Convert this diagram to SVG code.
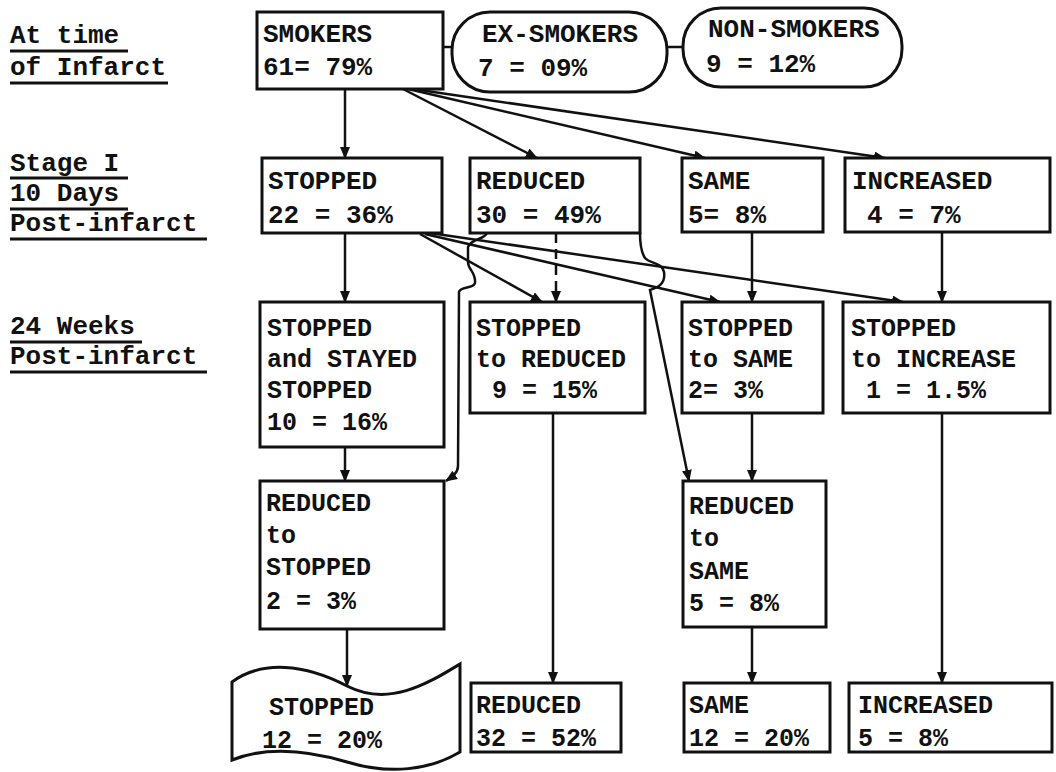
<svg xmlns="http://www.w3.org/2000/svg" width="1056" height="772" viewBox="0 0 1056 772">
<style>
  .t { font-family: "Liberation Mono", "DejaVu Sans Mono", monospace; font-size: 26px; font-weight: bold; fill: #111; }
  .b { font-family: "Liberation Mono", "DejaVu Sans Mono", monospace; font-size: 25px; font-weight: bold; fill: #111; }
  .box { fill: #fff; stroke: #111; stroke-width: 3; }
  .ul { stroke: #111; stroke-width: 3; }
  .c { fill: none; stroke: #111; stroke-width: 2.5; }
  .ca { fill: none; stroke: #111; stroke-width: 2.5; marker-end: url(#ah); }
</style>
<defs>
  <marker id="ah" markerWidth="12" markerHeight="10" refX="11" refY="5" orient="auto" markerUnits="userSpaceOnUse">
    <path d="M0,0 L12,5 L0,10 Z" fill="#111"/>
  </marker>
</defs>
<rect width="1056" height="772" fill="#fff"/>

<g id="row-labels">
  <text class="t" x="10" y="43">At time</text>
  <line class="ul" x1="10" y1="51" x2="128" y2="51"/>
  <text class="t" x="10" y="75">of Infarct</text>
  <line class="ul" x1="10" y1="83" x2="168" y2="83"/>
  <text class="t" x="10" y="171">Stage I</text>
  <line class="ul" x1="10" y1="178" x2="128" y2="178"/>
  <text class="t" x="10" y="201">10 Days</text>
  <line class="ul" x1="10" y1="209" x2="128" y2="209"/>
  <text class="t" x="10" y="231">Post-infarct</text>
  <line class="ul" x1="10" y1="239" x2="207" y2="239"/>
  <text class="t" x="10" y="334">24 Weeks</text>
  <line class="ul" x1="10" y1="342" x2="142" y2="342"/>
  <text class="t" x="10" y="364">Post-infarct</text>
  <line class="ul" x1="10" y1="372" x2="207" y2="372"/>
</g>

<g id="connectors">
  <line class="c" x1="443" y1="47" x2="452" y2="47"/>
  <line class="c" x1="667" y1="47" x2="683" y2="47"/>
  <path class="ca" d="M345,89 L345,158"/>
  <path class="ca" d="M403,89 L537,158"/>
  <path class="ca" d="M408,89 L705,158"/>
  <path class="ca" d="M413,89 L885,158"/>
  <path class="ca" d="M345,233 L345,302"/>
  <path class="ca" d="M420,234 L542,302"/>
  <path class="ca" d="M425,234 L720,302"/>
  <path class="ca" d="M430,233 L903,302"/>
  <path class="ca" d="M556,233 L556,302" stroke-dasharray="10 6"/>
  <path class="ca" d="M487,233 C484,240 472,238 468,247 L468,262 C468,270 476,272 475,283 C474,289 460,286 459,292 L458,466 C458,473 452,477 446,481"/>
  <path class="ca" d="M640,233 C640,245 641,252 645,258 C650,264 662,262 664,272 C666,285 656,288 650,290 L689,481"/>
  <path class="ca" d="M752,232 L752,302"/>
  <path class="ca" d="M942,232 L942,302"/>
  <path class="ca" d="M345,447 L345,481"/>
  <path class="ca" d="M553,413 L553,683"/>
  <path class="ca" d="M752,413 L752,481"/>
  <path class="ca" d="M942,413 L942,683"/>
  <path class="ca" d="M347,630 L347,686"/>
  <path class="ca" d="M752,627 L752,683"/>
</g>

<g id="smokers">
  <rect class="box" x="257" y="12" width="186" height="77"/>
  <text class="t" x="263" y="42">SMOKERS</text>
  <text class="t" x="263" y="75">61= 79%</text>
</g>
<g id="ex-smokers">
  <rect class="box" x="452" y="12" width="215" height="80" rx="38" ry="38"/>
  <text class="t" x="482" y="42">EX-SMOKERS</text>
  <text class="t" x="478" y="76">7 = 09%</text>
</g>
<g id="non-smokers">
  <rect class="box" x="683" y="8" width="219" height="79" rx="38" ry="38"/>
  <text class="t" x="708" y="37">NON-SMOKERS</text>
  <text class="t" x="706" y="72">9 = 12%</text>
</g>

<g id="s1-stopped">
  <rect class="box" x="262" y="158" width="180" height="75"/>
  <text class="t" x="268" y="189">STOPPED</text>
  <text class="t" x="268" y="223">22 = 36%</text>
</g>
<g id="s1-reduced">
  <rect class="box" x="470" y="158" width="170" height="75"/>
  <text class="t" x="476" y="189">REDUCED</text>
  <text class="t" x="476" y="223">30 = 49%</text>
</g>
<g id="s1-same">
  <rect class="box" x="682" y="158" width="141" height="74"/>
  <text class="t" x="688" y="189">SAME</text>
  <text class="t" x="688" y="223">5= 8%</text>
</g>
<g id="s1-increased">
  <rect class="box" x="845" y="158" width="205" height="74"/>
  <text class="t" x="852" y="189">INCREASED</text>
  <text class="t" x="867" y="223">4 = 7%</text>
</g>

<g id="w24-stopped-stayed">
  <rect class="box" x="260" y="302" width="184" height="145"/>
  <text class="b" x="267" y="336">STOPPED</text>
  <text class="b" x="267" y="367">and STAYED</text>
  <text class="b" x="267" y="398">STOPPED</text>
  <text class="b" x="267" y="430">10 = 16%</text>
</g>
<g id="w24-stopped-reduced">
  <rect class="box" x="470" y="302" width="175" height="111"/>
  <text class="b" x="476" y="336">STOPPED</text>
  <text class="b" x="476" y="367">to REDUCED</text>
  <text class="b" x="492" y="398">9 = 15%</text>
</g>
<g id="w24-stopped-same">
  <rect class="box" x="682" y="302" width="141" height="111"/>
  <text class="b" x="688" y="336">STOPPED</text>
  <text class="b" x="688" y="367">to SAME</text>
  <text class="b" x="688" y="398">2= 3%</text>
</g>
<g id="w24-stopped-increase">
  <rect class="box" x="843" y="302" width="207" height="111"/>
  <text class="b" x="851" y="336">STOPPED</text>
  <text class="b" x="851" y="367">to INCREASE</text>
  <text class="b" x="866" y="398">1 = 1.5%</text>
</g>

<g id="reduced-to-stopped">
  <rect class="box" x="260" y="481" width="184" height="148"/>
  <text class="b" x="266" y="511">REDUCED</text>
  <text class="b" x="266" y="543">to</text>
  <text class="b" x="266" y="575">STOPPED</text>
  <text class="b" x="266" y="609">2 = 3%</text>
</g>
<g id="reduced-to-same">
  <rect class="box" x="683" y="481" width="143" height="146"/>
  <text class="b" x="689" y="514">REDUCED</text>
  <text class="b" x="689" y="546">to</text>
  <text class="b" x="689" y="579">SAME</text>
  <text class="b" x="689" y="611">5 = 8%</text>
</g>

<g id="final-stopped">
  <path class="box" d="M232,682 C262,660 305,664 347,686 C390,708 430,682 460,664 L460,752 C430,770 390,775 347,762 C300,748 262,748 232,760 Z"/>
  <text class="b" x="269" y="715">STOPPED</text>
  <text class="b" x="262" y="748">12 = 20%</text>
</g>
<g id="final-reduced">
  <rect class="box" x="471" y="683" width="150" height="69"/>
  <text class="b" x="476" y="713">REDUCED</text>
  <text class="b" x="476" y="746">32 = 52%</text>
</g>
<g id="final-same">
  <rect class="box" x="684" y="683" width="146" height="69"/>
  <text class="b" x="689" y="713">SAME</text>
  <text class="b" x="689" y="746">12 = 20%</text>
</g>
<g id="final-increased">
  <rect class="box" x="849" y="683" width="203" height="69"/>
  <text class="b" x="858" y="713">INCREASED</text>
  <text class="b" x="858" y="746">5 = 8%</text>
</g>
</svg>
